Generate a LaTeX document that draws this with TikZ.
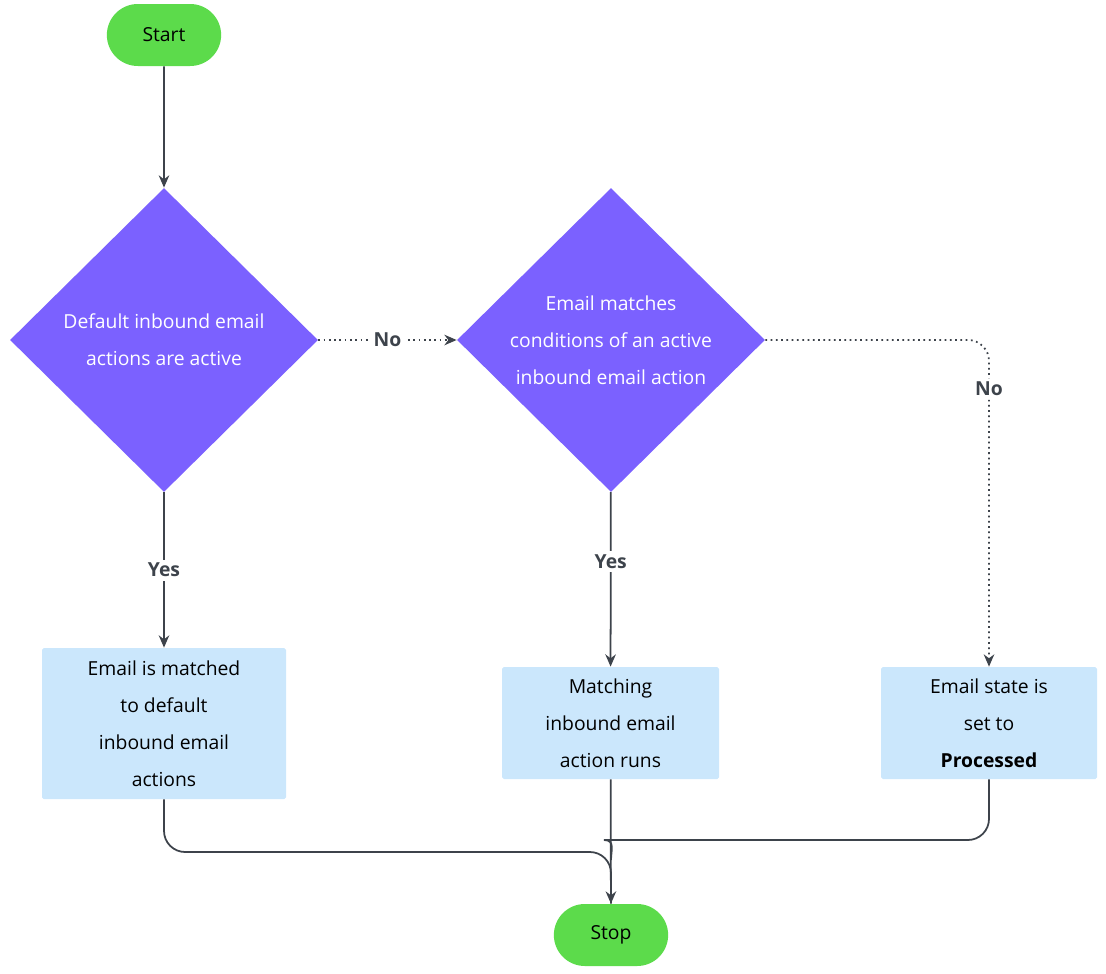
\documentclass[tikz,border=0pt]{standalone}
\usepackage{fontspec}
\setmainfont{Open Sans}
\usetikzlibrary{shapes.geometric,shapes.misc,positioning,arrows.meta}
\definecolor{termgreen}{HTML}{5CDB4B}
\definecolor{decpurple}{HTML}{7B61FF}
\definecolor{actblue}{HTML}{CBE7FC}
\definecolor{linegray}{HTML}{3D434B}
\tikzset{
  terminal/.style={rounded rectangle, fill=termgreen, minimum width=126*0.02cm, minimum height=62*0.02cm, font=\fontsize{11}{21}\selectfont},
  decision/.style={diamond, fill=decpurple, text=white, inner sep=0pt, minimum width=308*0.02cm, minimum height=304*0.02cm, align=center, font=\fontsize{11}{21}\selectfont},
  action/.style={rectangle, fill=actblue, rounded corners=1pt, align=center, font=\fontsize{11}{21}\selectfont},
  flow/.style={linegray, line width=1pt, -{Stealth[length=7pt,width=6pt]}},
  lab/.style={fill=white, font=\fontsize{11}{13}\selectfont\bfseries, text=linegray, inner sep=2pt}
}
\begin{document}
\begin{tikzpicture}[x=0.02cm, y=-0.02cm]
  \useasboundingbox (0,0) rectangle (1106,974);
  \node [terminal] (start) at (164,35) {Start};
  \node [decision] (dflt) at (164,340) {Default inbound email\\actions are active};
  \node [decision] (cond) at (611,340) {Email matches\\conditions of an active\\inbound email action};
  \node [action, minimum width=244*0.02cm, minimum height=151*0.02cm] (matched) at (164,723.5) {Email is matched\\to default\\inbound email\\actions};
  \node [action, minimum width=217*0.02cm, minimum height=112*0.02cm] (runs) at (610.5,723) {Matching\\inbound email\\action runs};
  \node [action, minimum width=216*0.02cm, minimum height=112*0.02cm] (state) at (989,723) {Email state is\\set to\\\textbf{Processed}};
  \node [terminal] (stop) at (611,935) {Stop};
  \coordinate (corner) at (989,340);
  % connectors
  \draw [flow] (start) -- (dflt);
  \draw [flow] (dflt) -- node [lab] {Yes} (matched);
  \draw [flow, dotted] (dflt) -- node [lab] {No} (cond);
  \draw [flow] (cond) -- node [lab, pos=0.4] {Yes} (runs);
  \draw [flow, dotted, rounded corners=12pt] (cond) -- (corner) -- node [lab, pos=0.15] {No} (state);
  \draw [flow] (runs) -- (stop);
  \draw [linegray, line width=1pt, rounded corners=12pt] (matched.south) |- (611,852) -- (stop.north);
  \draw [linegray, line width=1pt, rounded corners=12pt] (state.south) |- (625,840) to[out=180,in=90] (611,860);
\end{tikzpicture}
\end{document}
